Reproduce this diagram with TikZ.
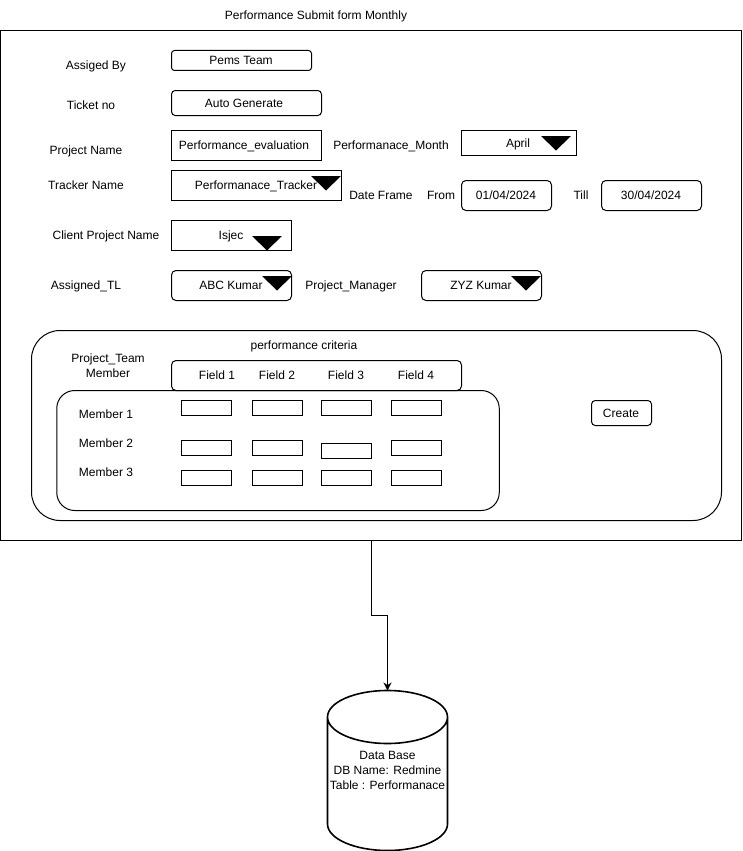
\documentclass[tikz,border=0pt]{standalone}
\usepackage{fontspec}
\setmainfont{Liberation Sans}
\usetikzlibrary{arrows.meta}
\tikzset{
  blocklbl/.style={font=\fontsize{12}{14.6}\selectfont,inner sep=0pt,align=center},
  lbl/.style={blocklbl,text height=10pt,text depth=2pt},
  sqbox/.style={draw,inner sep=0pt,outer sep=0pt},
  rndbox/.style={sqbox,rounded corners=3.75pt},
  tallbox/.style={sqbox,rounded corners=4.5pt},
  cellbox/.style={sqbox,minimum width=50pt,minimum height=15pt},
}
\begin{document}
\begin{tikzpicture}[x=1pt,y=-1pt,line width=1pt]
    \useasboundingbox (0,0) rectangle (742,851);
    \node[lbl] (title) at (316,15.6) {Performance Submit form Monthly};
    \node[sqbox,minimum width=741pt,minimum height=510pt] (outer) at (371,285.5) {};
    % top of the form
    \node[lbl] (assigned) at (96,65.6) {Assiged By};
    \node[rndbox,rounded corners=3pt,minimum width=140pt,minimum height=20pt] (pemsbox) at (241.5,60.5) {};
    \node[lbl] (pems) at (241,60) {Pems Team};
    \node[lbl] (ticket) at (91,105) {Ticket no};
    \node[rndbox,minimum width=150pt,minimum height=25pt] (ticketbox) at (246.5,103) {};
    \node[lbl] (autogen) at (244,103) {Auto Generate};
    \node[lbl] (project) at (86,150) {Project Name};
    \node[sqbox,minimum width=150pt,minimum height=30pt] (projectbox) at (246.5,145.5) {};
    \node[lbl] (evaluation) at (244,145) {Performance\_evaluation};
    \node[lbl] (month) at (391,145) {Performanace\_Month};
    \node[sqbox,minimum width=115pt,minimum height=25pt] (monthbox) at (519,143) {};
    \node[lbl] (april) at (518,143) {April};
    \node[lbl] (tracker) at (86,185) {Tracker Name};
    \node[sqbox,minimum width=170pt,minimum height=30pt] (trackerbox) at (256.5,185.5) {};
    \node[lbl] (trackername) at (256,185) {Performanace\_Tracker};
    \node[lbl] (dateframe) at (381,195) {Date Frame};
    \node[lbl] (from) at (441,195) {From};
    \node[tallbox,minimum width=90pt,minimum height=30pt] (frombox) at (506.5,195.5) {};
    \node[lbl] (fromdate) at (506,195) {01/04/2024};
    \node[lbl] (till) at (581,195) {Till};
    \node[tallbox,minimum width=100pt,minimum height=30pt] (tillbox) at (651.5,195.5) {};
    \node[lbl] (tilldate) at (651,195) {30/04/2024};
    \node[lbl] (client) at (106,235) {Client Project Name};
    \node[sqbox,minimum width=120pt,minimum height=30pt] (clientbox) at (231.5,235.5) {};
    \node[lbl] (isjec) at (231,235) {Isjec};
    \node[lbl] (teamlead) at (86,285) {Assigned\_TL};
    \node[tallbox,minimum width=120pt,minimum height=30pt] (tlbox) at (231.5,285.5) {};
    \node[lbl] (tlname) at (231,285) {ABC Kumar};
    \node[lbl] (manager) at (351,285) {Project\_Manager};
    \node[tallbox,minimum width=120pt,minimum height=30pt] (managerbox) at (481.5,285.5) {};
    \node[lbl] (managername) at (481,285) {ZYZ Kumar};
    % drop down marks
    \foreach \x/\y in {541/136,311/176,252/236,262/276,511/276}
      \fill (\x,\y) -- ++(30,0) -- ++(-15,14.5) -- cycle;
    % performance criteria
    \node[sqbox,rounded corners=28.5pt,minimum width=690pt,minimum height=190pt] (criteria) at (376.5,425.5) {};
    \node[lbl] (critlabel) at (304,345) {performance criteria};
    \node[blocklbl] (team) at (108,366) {Project\_Team\\Member};
    \node[tallbox,minimum width=290pt,minimum height=30pt] (fields) at (316.5,375.5) {};
    \foreach \n/\x in {1/217,2/277,3/346,4/416}
      \node[lbl] (field\n) at (\x,375) {Field \n};
    \node[sqbox,rounded corners=18pt,minimum width=442.5pt,minimum height=120pt] (members) at (278,450.5) {};
    \foreach \n/\y in {1/414,2/443,3/472}
      \node[lbl] (member\n) at (106,\y) {Member \n};
    \foreach \c/\x in {1/206.5,2/277.5,3/346.5,4/416.5}
      \foreach \r/\y in {1/408,3/478}
        \node[cellbox] (cell\r\c) at (\x,\y) {};
    \foreach \c/\x/\y in {1/206.5/448,2/277.5/448,3/346.5/450.5,4/416.5/448}
      \node[cellbox] (cell2\c) at (\x,\y) {};
    \node[rndbox,minimum width=60pt,minimum height=25pt] (createbox) at (621.5,413) {};
    \node[lbl] (create) at (621,413) {Create};
    % data base
    \node[blocklbl,outer sep=0pt,minimum width=120pt,minimum height=160pt] (dbase) at (387.5,770.5) {Data Base\\DB Name: Redmine\\Table : Performanace};
    \draw[line width=1.6pt] ([yshift=-26.5pt]dbase.north west)
      arc[start angle=180,end angle=0,x radius=60pt,y radius=26.5pt]
      -- ([yshift=26.5pt]dbase.south east)
      arc[start angle=0,end angle=-180,x radius=60pt,y radius=26.5pt]
      -- cycle
      ([yshift=-26.5pt]dbase.north west)
      arc[start angle=180,end angle=360,x radius=60pt,y radius=26.5pt];
    \draw[-{Stealth[length=8pt,width=8pt]}] (outer.south) -- ++(0,75) -| (dbase.north);
  \end{tikzpicture}
\end{document}
